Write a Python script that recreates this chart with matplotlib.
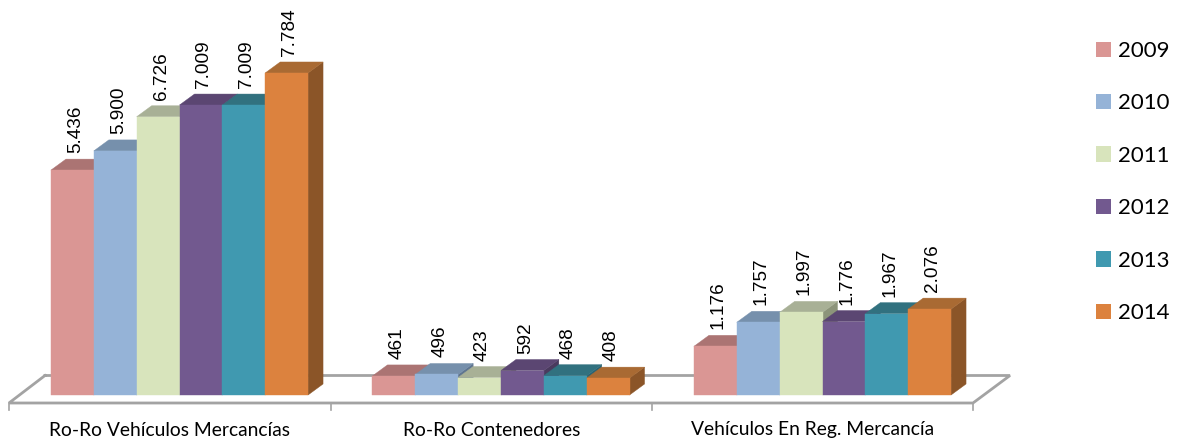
import numpy as np
import matplotlib.pyplot as plt
from matplotlib.patches import Patch, Polygon

categories = ['Ro-Ro Vehículos Mercancías', 'Ro-Ro Contenedores', 'Vehículos En Reg. Mercancía']
years = ['2009', '2010', '2011', '2012', '2013', '2014']
v2009 = [5436, 461, 1176]
v2010 = [5900, 496, 1757]
v2011 = [6726, 423, 1997]
v2012 = [7009, 592, 1776]
v2013 = [7009, 468, 1967]
v2014 = [7784, 408, 2076]
labels2009 = ['5.436', '461', '1.176']
labels2010 = ['5.900', '496', '1.757']
labels2011 = ['6.726', '423', '1.997']
labels2012 = ['7.009', '592', '1.776']
labels2013 = ['7.009', '468', '1.967']
labels2014 = ['7.784', '408', '2.076']

series = [v2009, v2010, v2011, v2012, v2013, v2014]
labels = [labels2009, labels2010, labels2011, labels2012, labels2013, labels2014]
front = ['#DA9694', '#95B3D7', '#D8E4BC', '#72598F', '#4099B0', '#DC823E']
top = ['#AB7473', '#7690AC', '#A8B096', '#5B4672', '#31717F', '#A96A33']
side = ['#8E6160', '#5F7590', '#8C947A', '#4A3A5E', '#2A6373', '#8B5528']

W, H = 1184, 443
px_x = 321.5       # pixels per category
px_y = 0.04137     # pixels per unit
x0 = 179.5
y0 = 395
fig = plt.figure(figsize=(W / 100, H / 100), dpi=100)
ax = fig.add_axes([0, 0, 1, 1])
ax.set_xlim(-x0 / px_x, (W - x0) / px_x)
ax.set_ylim(-(H - y0) / px_y, y0 / px_y)
ax.axis('off')

bw = 42.85 / px_x
dx = 15 / px_x
dy = 11 / px_y
grey = '#A3A3A3'

# floor
fx = lambda p: (p - x0) / px_x
fy = lambda p: (y0 - p) / px_y
ax.plot([fx(45), fx(9), fx(973), fx(1010), fx(45)],
        [fy(375.5), fy(403), fy(403), fy(375.5), fy(375.5)],
        color=grey, lw=2, solid_joinstyle='miter', zorder=1)
for t in [9, 330.5, 652, 973]:
    ax.plot([fx(t), fx(t)], [fy(403), fy(410)], color=grey, lw=1.2, zorder=1)

z = 2
for g in range(3):
    for i in range(6):
        v = series[i][g]
        x = g + (i - 3) * bw
        r = x + bw
        ax.add_patch(Polygon([(r, 0), (r + dx, dy), (r + dx, v + dy), (r, v)],
                             facecolor=side[i], edgecolor=side[i], lw=0.3, zorder=z))
        ax.add_patch(Polygon([(x, v), (x + dx, v + dy), (r + dx, v + dy), (r, v)],
                             facecolor=top[i], edgecolor=top[i], lw=0.3, zorder=z))
        ax.bar(x, v, bw, align='edge', color=front[i], edgecolor=front[i], lw=0.3, zorder=z + 0.5)
        z += 1
        ax.annotate(labels[i][g], (x + bw / 2, v), xytext=(3, 17), textcoords='offset pixels',
                    rotation=90, ha='center', va='bottom', family='Liberation Sans',
                    fontsize=13.7, color='black', zorder=100)

for g, c in enumerate(categories):
    ax.text(g - 0.03, fy(430), c, ha='center', va='center', family='Lato', fontsize=13.9, color='black')

handles = [Patch(color=c, lw=0) for c in front]
ax.legend(handles, years, loc='upper left', bbox_to_anchor=(1076 / W, 1 - 21 / H), frameon=False,
          prop={'family': 'Lato', 'size': 16}, handlelength=0.68, handleheight=0.68,
          handletextpad=0.32, labelspacing=1.46)

fig.savefig('out.png', dpi=100)
